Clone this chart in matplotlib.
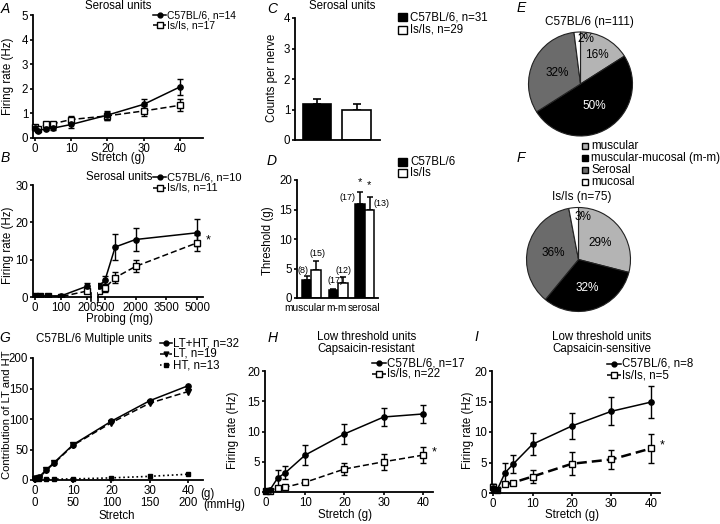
import matplotlib
matplotlib.use('Agg')
import numpy as np
import matplotlib.pyplot as plt
import matplotlib.transforms as mtransforms
from matplotlib.lines import Line2D
from matplotlib.patches import Rectangle

plt.rcParams['font.family'] = ['Liberation Sans', 'DejaVu Sans']
plt.rcParams['font.size'] = 8.3

# ---- data ----
# A: serosal units, stretch (g)
a_stretch = [0, 1, 3, 5, 10, 20, 30, 40]
a_wt = [0.40, 0.30, 0.38, 0.40, 0.55, 0.93, 1.37, 2.08]
a_wt_err = [0.08, 0.06, 0.06, 0.07, 0.13, 0.18, 0.20, 0.33]
a_ls = [0.45, 0.38, 0.55, 0.58, 0.75, 0.90, 1.10, 1.33]
a_ls_err = [0.08, 0.07, 0.08, 0.08, 0.15, 0.15, 0.20, 0.25]

# B: serosal units, probing (mg), broken axis
b_probe = [0, 20, 50, 100, 200, 500, 1000, 2000, 5000]
b_wt = [0.3, 0.3, 0.3, 0.3, 2.9, 4.5, 13.4, 15.4, 17.2]
b_wt_err = [0.2, 0.2, 0.2, 0.2, 0.8, 1.1, 3.6, 3.2, 3.6]
b_ls = [0.2, 0.2, 0.2, 0.1, 1.6, 2.4, 5.2, 8.2, 14.5]
b_ls_err = [0.1, 0.1, 0.1, 0.1, 0.6, 1.0, 1.4, 1.6, 2.2]

# C: counts per nerve
c_groups = ['C57BL/6, n=31', 'Is/Is, n=29']
c_counts = [1.18, 0.99]
c_err = [0.17, 0.18]

# D: threshold (g)
d_types = ['muscular', 'm-m', 'serosal']
d_wt = [3.05, 1.3, 16.0]
d_wt_err = [0.65, 0.2, 1.9]
d_ls = [4.7, 2.5, 14.9]
d_ls_err = [1.6, 1.0, 2.3]
d_n_wt = [8, 17, 17]
d_n_ls = [15, 12, 13]

# E, F: proportions of unit types
pie_labels = ['muscular', 'muscular-mucosal (m-m)', 'Serosal', 'mucosal']
pie_colors = ['#b4b4b4', '#000000', '#6b6b6b', '#ffffff']
e_pct = [16, 50, 32, 2]
f_pct = [29, 32, 36, 3]

# G: multiple units
g_stretch = [0, 1, 3, 5, 10, 20, 30, 40]
g_mmhg = [0, 50, 100, 150, 200]
g_ltht = [2.7, 4.4, 17, 28.5, 58, 96.5, 130, 154.5]
g_lt = [1.6, 2.7, 16, 27.4, 57, 94, 126, 145]
g_ht = [1.5, 1.5, 1.5, 1.5, 1.8, 3.5, 6, 9.5]

# H: low threshold, capsaicin-resistant
h_stretch = [0, 1, 3, 5, 10, 20, 30, 40]
h_wt = [0.1, 0.3, 2.3, 3.2, 6.1, 9.6, 12.4, 12.9]
h_wt_err = [0.1, 0.2, 1.4, 1.1, 1.6, 1.6, 1.5, 1.5]
h_ls = [0.1, 0.1, 0.6, 0.8, 1.6, 3.8, 5.0, 6.1]
h_ls_err = [0.05, 0.05, 0.4, 0.2, 0.3, 0.95, 1.3, 1.3]

# I: low threshold, capsaicin-sensitive
i_stretch = [0, 1, 3, 5, 10, 20, 30, 40]
i_wt = [0.8, 0.5, 3.3, 4.7, 8.0, 11.0, 13.4, 14.9]
i_wt_err = [0.6, 0.3, 1.7, 1.5, 1.8, 2.1, 2.3, 2.65]
i_ls = [1.0, 0.45, 1.4, 1.7, 2.7, 4.8, 5.5, 7.3]
i_ls_err = [0.4, 0.2, 0.3, 0.3, 1.0, 1.9, 1.6, 2.3]

W, H = 720, 524
fig = plt.figure(figsize=(W / 100, H / 100), dpi=100)
px = mtransforms.Affine2D().scale(1 / W, -1 / H).translate(0, 1) + fig.transFigure


def axpx(l, t, r, b):
    return fig.add_axes([l / W, 1 - b / H, (r - l) / W, (b - t) / H])


def ftext(x, y, s, **kw):
    kw.setdefault('ha', 'center')
    kw.setdefault('va', 'center')
    fig.text(x, y, s, transform=px, **kw)


def prism(ax):
    for s in ('top', 'right'):
        ax.spines[s].set_visible(False)
    for s in ('left', 'bottom'):
        ax.spines[s].set_linewidth(1.3)
    ax.tick_params(direction='out', length=2.5, width=1.2, pad=1, labelsize=8.3)


def series(ax, x, y, e, ls, marker, mfc, lw=1.1, ms=4, clip=False):
    eb = ax.errorbar(x, y, yerr=e, color='k', ls=ls, lw=lw, marker=marker,
                     mfc=mfc, mec='k', mew=1, ms=ms, capsize=2.5,
                     elinewidth=1, capthick=1, zorder=3)
    for art in eb.get_children():
        art.set_clip_on(clip)
    return eb


def legline(x0, x1, y, ls, marker, mfc, label, fs=8.3, ms=4, lw=1.1):
    fig.add_artist(Line2D([x0, x1], [y, y], transform=px, color='k', ls=ls, lw=lw))
    fig.add_artist(Line2D([(x0 + x1) / 2], [y], transform=px, marker=marker,
                          mfc=mfc, mec='k', ms=ms, ls='none'))
    ftext(x1 + 1, y, label, fontsize=fs, ha='left')


def legbox(x, y, color, label, w=9, h=8, fs=8.3):
    fig.add_artist(Rectangle((x, y - h / 2), w, h, transform=px, facecolor=color,
                             edgecolor='k', lw=1))
    ftext(x + w + 3, y, label, fontsize=fs, ha='left')


DASH = (0, (4, 2))

# ---------------- A ----------------
ax = axpx(33, 15, 203, 138)
prism(ax)
series(ax, a_stretch, a_ls, a_ls_err, DASH, 's', 'w', ms=4.3)
series(ax, a_stretch, a_wt, a_wt_err, '-', 'o', 'k', ms=3.8)
ax.set_xlim(-0.5, 46.3)
ax.set_ylim(0, 5)
ax.set_xticks([0, 10, 20, 30, 40])
ax.set_yticks([0, 1, 2, 3, 4, 5])
ftext(118, 6, 'Serosal units')
ftext(118, 158, 'Stretch (g)')
ftext(8, 76, 'Firing rate (Hz)', rotation=90)
legline(153, 166, 15, '-', 'o', 'k', 'C57BL/6, n=14', fs=7.4, ms=3.5)
legline(153, 166, 25, DASH, 's', 'w', 'Is/Is, n=17', fs=7.4, ms=3.8)

# ---------------- B ----------------
lo = [i for i, p in enumerate(b_probe) if p <= 200]
hi = [i for i, p in enumerate(b_probe) if p >= 200]
axb1 = axpx(33, 185, 91, 297)
axb2 = axpx(98, 185, 203, 297)
for axb, idx in ((axb1, lo), (axb2, hi)):
    prism(axb)
    xs = [b_probe[i] for i in idx]
    series(axb, xs, [b_ls[i] for i in idx], [b_ls_err[i] for i in idx], DASH, 's', 'w',
           ms=4.3, clip=True)
    series(axb, xs, [b_wt[i] for i in idx], [b_wt_err[i] for i in idx], '-', 'o', 'k',
           ms=3.8, clip=True)
    axb.set_ylim(0, 30)
axb1.set_xlim(-8, 215)
axb1.set_xticks([0, 100, 200])
axb1.set_yticks([0, 10, 20, 30])
axb2.set_xlim(158, 5294)
axb2.set_xticks([500, 2000, 3500, 5000])
axb2.spines['left'].set_visible(False)
axb2.set_yticks([])
axb1.plot([1, 1], [-0.04, 0.04], transform=axb1.transAxes, color='k', lw=1.2, clip_on=False)
axb2.plot([0, 0], [-0.04, 0.04], transform=axb2.transAxes, color='k', lw=1.2, clip_on=False)
axb2.annotate('*', (b_probe[-1], b_ls[-1]), xytext=(6, 2), textcoords='offset points',
              ha='left', va='center', fontsize=9)
ftext(120, 319, 'Probing (mg)')
ftext(8, 245, 'Firing rate (Hz)', rotation=90)
ftext(86, 177, 'Serosal units', ha='left')
legline(153, 166, 177, '-', 'o', 'k', 'C57BL/6, n=10', fs=8.0, ms=3.5)
legline(153, 166, 188, DASH, 's', 'w', 'Is/Is, n=11', fs=8.0, ms=3.8)

# ---------------- C ----------------
ax = axpx(295, 18, 380, 140)
prism(ax)
cx = np.arange(len(c_counts))
ax.bar(cx, c_counts, width=0.71, color=['k', 'w'], edgecolor='k', lw=1.2, zorder=2)
ax.errorbar(cx, c_counts, yerr=[np.zeros(len(c_err)), c_err], fmt='none', ecolor='k',
            capsize=3, elinewidth=1.2, capthick=1.2, zorder=1)
ax.set_xlim(-0.545, 1.59)
ax.set_ylim(0, 4)
ax.set_xticks([])
ax.set_yticks([0, 1, 2, 3, 4])
ftext(342, 6, 'Serosal units')
ftext(272, 78, 'Counts per nerve', rotation=90)
legbox(398, 17, 'k', c_groups[0])
legbox(398, 30, 'w', c_groups[1])

# ---------------- D ----------------
ax = axpx(297, 180, 378, 298)
prism(ax)
dx = np.arange(len(d_types))
bw = 0.355
ax.bar(dx - bw / 2, d_wt, width=bw, color='k', edgecolor='k', lw=1.1, zorder=2)
ax.bar(dx + bw / 2, d_ls, width=bw, color='w', edgecolor='k', lw=1.1, zorder=2)
ax.errorbar(dx - bw / 2, d_wt, yerr=[np.zeros(3), d_wt_err], fmt='none', ecolor='k',
            capsize=2.5, elinewidth=1.1, capthick=1.1, zorder=1)
ax.errorbar(dx + bw / 2, d_ls, yerr=[np.zeros(3), d_ls_err], fmt='none', ecolor='k',
            capsize=2.5, elinewidth=1.1, capthick=1.1, zorder=1)
ax.set_xlim(-0.533, 2.495)
ax.set_ylim(0, 20)
ax.set_yticks([0, 5, 10, 15, 20])
# category names sit slightly off the group centres in the original
ax.set_xticks([-0.25, 0.96, 1.97])
ax.set_xticklabels(d_types)
ax.tick_params(axis='x', length=0, pad=3.5, labelsize=7.3)
# sample sizes next to the bars
n_pos = [(-0.31, 4.7), (0.25, 7.6), (0.89, 3.05), (1.19, 4.7), (1.34, 17.1), (2.64, 16.1)]
n_txt = [val for pair in zip(d_n_wt, d_n_ls) for val in pair]
for (xx, yy), n in zip(n_pos, n_txt):
    ax.text(xx, yy, '(%d)' % n, ha='center', va='center', fontsize=6.5, clip_on=False)
ax.text(1.82, 19.7, '*', ha='center', va='center', fontsize=8, clip_on=False)
ax.text(2.16, 19.2, '*', ha='center', va='center', fontsize=8, clip_on=False)
ftext(268, 241, 'Threshold (g)', rotation=90)
legbox(398, 162, 'k', 'C57BL/6')
legbox(398, 173, 'w', 'Is/Is')


# ---------------- E, F ----------------
def pie_panel(cx, cy, r, pct, radii, title, ty, tx):
    lim = 1.1
    h = r * lim
    ax = axpx(cx - h, cy - h, cx + h, cy + h)
    wedges, _ = ax.pie(pct, colors=pie_colors, startangle=90, counterclock=False,
                       wedgeprops=dict(edgecolor='#222222', linewidth=0.8))
    ax.set_xlim(-lim, lim)
    ax.set_ylim(-lim, lim)
    for w, p, rr, col in zip(wedges, pct, radii, pie_colors):
        th = np.deg2rad((w.theta1 + w.theta2) / 2)
        tc = 'w' if col == '#000000' else 'k'
        ha = 'left' if p < 5 else 'center'
        ax.text(rr * np.cos(th), rr * np.sin(th), '%d%%' % p, color=tc,
                ha=ha, va='center', fontsize=8.5)
    ftext(tx, ty, title, fontsize=8.5)


pie_panel(580.5, 84, 52, e_pct, [0.64, 0.5, 0.5, 0.86], 'C57BL/6 (n=111)', 22, 589)
pie_panel(578.5, 259.5, 52, f_pct, [0.53, 0.57, 0.5, 0.82], 'Is/Is (n=75)', 197, 582)
for yy, lab, col in zip([146, 158, 170, 182], pie_labels, pie_colors):
    legbox(582, yy, col, lab, w=6, h=6, fs=8.4)

# ---------------- G ----------------
ax = axpx(33, 358, 203, 480)
prism(ax)
ax.plot(g_stretch, g_ht, color='k', ls=':', lw=1.2, marker='s', ms=3.5, clip_on=False, zorder=3)
ax.plot(g_stretch, g_lt, color='k', ls=DASH, lw=1.1, marker='v', ms=3.8, clip_on=False, zorder=3)
ax.plot(g_stretch, g_ltht, color='k', ls='-', lw=1.1, marker='o', ms=3.8, clip_on=False, zorder=3)
ax.set_xlim(-0.5, 43.9)
ax.set_ylim(0, 200)
ax.set_yticks([0, 50, 100, 150, 200])
gt = [0, 10, 20, 30, 40]
ax.set_xticks(gt)
ax.set_xticklabels(['%d\n%d' % (g, m) for g, m in zip(gt, g_mmhg)], linespacing=1.0)
ftext(200, 494, '(g)', ha='left')
ftext(203, 505, '(mmHg)', ha='left')
ftext(117, 516, 'Stretch')
ftext(7, 415, 'Contribution of LT and HT', rotation=90, fontsize=8.1)
ftext(36, 339, 'C57BL/6 Multiple units', ha='left')
legline(160, 172, 343, '-', 'o', 'k', 'LT+HT, n=32', ms=3.5)
legline(160, 172, 354, DASH, 'v', 'k', 'LT, n=19', ms=3.5)
legline(160, 172, 365, ':', 's', 'k', 'HT, n=13', ms=3.3)

# ---------------- H ----------------
ax = axpx(265, 371, 433, 492)
prism(ax)
series(ax, h_stretch, h_ls, h_ls_err, DASH, 's', 'w', ms=4.3)
series(ax, h_stretch, h_wt, h_wt_err, '-', 'o', 'k', ms=3.8)
ax.set_xlim(-0.2, 42.5)
ax.set_ylim(0, 20)
ax.set_xticks([0, 10, 20, 30, 40])
ax.set_yticks([0, 5, 10, 15, 20])
ax.annotate('*', (h_stretch[-1], h_ls[-1]), xytext=(6, 2), textcoords='offset points',
            ha='left', va='center', fontsize=9)
ftext(345, 515, 'Stretch (g)')
ftext(233, 430, 'Firing rate (Hz)', rotation=90)
ftext(317, 337, 'Low threshold units', ha='left')
ftext(317, 349, 'Capsaicin-resistant', ha='left')
legline(372, 386, 363, '-', 'o', 'k', 'C57BL/6, n=17', ms=3.5)
legline(372, 386, 374, DASH, 's', 'w', 'Is/Is, n=22', ms=3.8)

# ---------------- I ----------------
ax = axpx(492, 371, 660, 493)
prism(ax)
series(ax, i_stretch, i_ls, i_ls_err, DASH, 's', 'w', lw=1.8, ms=4.3)
series(ax, i_stretch, i_wt, i_wt_err, '-', 'o', 'k', ms=3.8)
ax.set_xlim(-0.3, 42.3)
ax.set_ylim(0, 20)
ax.set_xticks([0, 10, 20, 30, 40])
ax.set_yticks([0, 5, 10, 15, 20])
ax.annotate('*', (i_stretch[-1], i_ls[-1]), xytext=(6, 2), textcoords='offset points',
            ha='left', va='center', fontsize=9)
ftext(572, 515, 'Stretch (g)')
ftext(468, 430, 'Firing rate (Hz)', rotation=90)
ftext(552, 337, 'Low threshold units', ha='left')
ftext(552, 349, 'Capsaicin-sensitive', ha='left')
legline(607, 621, 364, '-', 'o', 'k', 'C57BL/6, n=8', ms=3.5)
legline(607, 621, 375, DASH, 's', 'w', 'Is/Is, n=5', ms=3.8)

# panel letters
for lab, x, y in [('A', 5, 9), ('B', 5, 158), ('C', 272, 9), ('D', 272, 161),
                  ('E', 521, 8), ('F', 521, 158), ('G', 5, 338), ('H', 273, 338),
                  ('I', 476, 337)]:
    ftext(x, y, lab, fontsize=10, style='italic')

fig.savefig('out.png', dpi=100)
